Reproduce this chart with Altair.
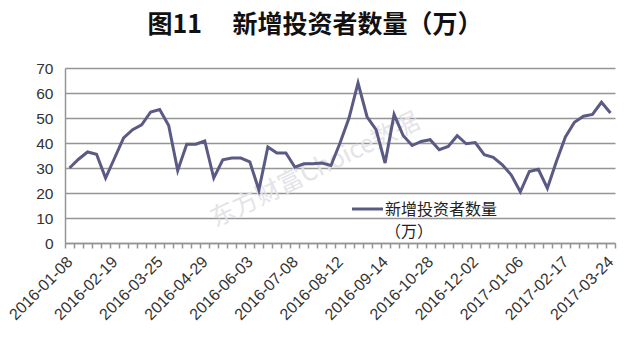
import altair as alt
import pandas as pd

dates = [
    "2016-01-08", "2016-01-15", "2016-01-22", "2016-01-29", "2016-02-05",
    "2016-02-19", "2016-02-26", "2016-03-04", "2016-03-11", "2016-03-18",
    "2016-03-25", "2016-04-01", "2016-04-08", "2016-04-15", "2016-04-22",
    "2016-04-29", "2016-05-06", "2016-05-13", "2016-05-20", "2016-05-27",
    "2016-06-03", "2016-06-08", "2016-06-17", "2016-06-24", "2016-07-01",
    "2016-07-08", "2016-07-15", "2016-07-22", "2016-07-29", "2016-08-05",
    "2016-08-12", "2016-08-19", "2016-08-26", "2016-09-02", "2016-09-09",
    "2016-09-14", "2016-09-23", "2016-09-30", "2016-10-14", "2016-10-21",
    "2016-10-28", "2016-11-04", "2016-11-11", "2016-11-18", "2016-11-25",
    "2016-12-02", "2016-12-09", "2016-12-16", "2016-12-23", "2016-12-30",
    "2017-01-06", "2017-01-13", "2017-01-20", "2017-02-03", "2017-02-10",
    "2017-02-17", "2017-02-24", "2017-03-03", "2017-03-10", "2017-03-17",
    "2017-03-24",
]

values = [
    30, 33.5, 36.4, 35.5, 26,
    34, 42, 45.3, 47.3, 52.4,
    53.4, 47, 29, 39.5, 39.5,
    40.8, 26, 33.3, 34, 34,
    32.5, 21.2, 38.4, 36, 36,
    30.3, 31.7, 31.7, 32, 31,
    40, 50, 64, 50.5, 45.3,
    32, 51.4, 43, 39, 40.6,
    41.3, 37.3, 38.6, 42.9, 39.7,
    40.2, 35.3, 34.3, 31.3, 27.2,
    20.5, 28.6, 29.5, 21.9, 32.6,
    42.4, 48.3, 50.7, 51.4, 56.3,
    52,
]

tick_labels = [
    "2016-01-08", "2016-02-19", "2016-03-25", "2016-04-29", "2016-06-03",
    "2016-07-08", "2016-08-12", "2016-09-14", "2016-10-28", "2016-12-02",
    "2017-01-06", "2017-02-17", "2017-03-24",
]

y_ticks = [0, 10, 20, 30, 40, 50, 60, 70]

series_name = "新增投资者数量"
unit_text = "（万）"
title_text = "图11\u3000 新增投资者数量（万）"
watermark_text = "东方财富Choice数据"

df = pd.DataFrame({"date": dates, "value": values})

LINE_COLOR = "#5a5a85"
AXIS_COLOR = "#959595"
LABEL_COLOR = "#333333"

label_list = "[" + ",".join("'" + t + "'" for t in tick_labels) + "]"

line = alt.Chart(df).mark_line(color=LINE_COLOR, strokeWidth=3).encode(
    x=alt.X(
        "date:N",
        sort=None,
        bandPosition=0.5,
        scale=alt.Scale(type="band", paddingInner=0, paddingOuter=0),
        axis=alt.Axis(
            title=None,
            labelExpr="indexof(" + label_list + ", datum.value) >= 0 ? datum.label : ''",
            labelOverlap=False,
            labelAngle=315,
            labelAlign="right",
            labelBaseline="middle",
            labelFont="Liberation Sans",
            labelFontSize=16,
            labelColor=LABEL_COLOR,
            labelPadding=11,
            tickBand="extent",
            tickSize=5,
            tickColor=AXIS_COLOR,
            tickWidth=1.5,
            domainColor=AXIS_COLOR,
            domainWidth=1.5,
            grid=False,
        ),
    ),
    y=alt.Y(
        "value:Q",
        scale=alt.Scale(domain=[0, 70], nice=False, zero=True),
        axis=alt.Axis(
            title=None,
            values=y_ticks,
            ticks=False,
            labelFont="Liberation Sans",
            labelFontSize=15.5,
            labelColor=LABEL_COLOR,
            labelPadding=12,
            grid=True,
            gridColor=AXIS_COLOR,
            gridWidth=1.5,
            domainColor=AXIS_COLOR,
            domainWidth=1.5,
        ),
    ),
)

one = pd.DataFrame({"k": [0]})

watermark = alt.Chart(one).mark_text(
    align="center", baseline="middle", font="Noto Sans CJK SC", fontSize=25,
    angle=334, color="#e2e2e6", opacity=0.9
).encode(x=alt.value(250), y=alt.value(102), text=alt.value(watermark_text))

legend_line = alt.Chart(one).mark_rule(color=LINE_COLOR, strokeWidth=3).encode(
    x=alt.value(287), x2=alt.value(318), y=alt.value(141)
)
legend_text1 = alt.Chart(one).mark_text(
    align="left", baseline="middle", font="Noto Sans CJK SC", fontSize=16, color="#222222"
).encode(x=alt.value(320), y=alt.value(142), text=alt.value(series_name))
legend_text2 = alt.Chart(one).mark_text(
    align="left", baseline="middle", font="Noto Sans CJK SC", fontSize=16, color="#222222"
).encode(x=alt.value(320), y=alt.value(164), text=alt.value(unit_text))

title = alt.Chart(one).mark_text(
    align="center", baseline="middle", font="Noto Sans CJK SC", fontSize=25,
    fontWeight="bold", color="#111111"
).encode(x=alt.value(250), y=alt.value(-43), text=alt.value(title_text))

chart = alt.layer(watermark, line, legend_line, legend_text1, legend_text2, title).properties(
    width=550,
    height=175,
    autosize=alt.AutoSizeParams(type="none"),
    padding={"left": 65, "top": 68, "right": 25, "bottom": 109},
    background="white",
).configure_view(stroke=None)

chart.save("out.html", embed_options={"renderer": "svg", "actions": False})
